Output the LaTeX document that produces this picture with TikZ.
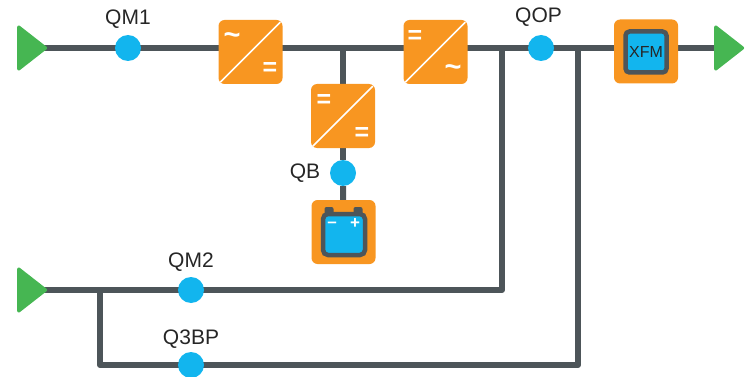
\documentclass[tikz,border=0pt]{standalone}
\usepackage{fontspec}
\setmainfont{Liberation Sans}
\usetikzlibrary{shapes.geometric,backgrounds}
\definecolor{wire}{HTML}{4D5559}
\definecolor{amber}{HTML}{F89621}
\definecolor{sky}{HTML}{12B5EE}
\definecolor{leaf}{HTML}{46B652}
\tikzset{
  x=1pt,y=-1pt,
  wireline/.style={draw=wire,line width=6pt,line join=round},
  breaker/.style={circle,fill=sky,minimum size=26pt,inner sep=0pt},
  orangebox/.style={fill=amber,rounded corners=6pt,minimum size=64pt,inner sep=0pt},
  source/.style={isosceles triangle,isosceles triangle apex angle=76,fill=leaf,draw=leaf,line width=3pt,line join=round,inner sep=0pt,minimum height=27pt,minimum width=41pt},
  tag/.style={font=\fontsize{21}{21}\selectfont,text=black!85,inner sep=0pt},
  sign/.style={font=\fontsize{25}{25}\selectfont\bfseries,text=white,inner sep=0pt},
  wave/.style={font=\fontsize{29}{29}\selectfont\bfseries,text=white,inner sep=0pt},
  smallsign/.style={font=\fontsize{17}{17}\selectfont\bfseries,text=white,inner sep=0pt},
  slash/.style={draw=white,line width=1.6pt},
  innerbox/.style={draw=wire,fill=sky,line width=4.5pt,rounded corners=4pt,minimum size=41pt,inner sep=0pt},
}
\begin{document}
\begin{tikzpicture}
\useasboundingbox (0,0) rectangle (749,377);
% sources
\node[source] (s1) at (29,48) {};
\node[source] (s2) at (29,290) {};
\node[source] (s3) at (726,48) {};
% breakers
\node[breaker] (qm1) at (128,48) {};
\node[breaker] (qop) at (541,48) {};
\node[breaker] (qb) at (343,173) {};
\node[breaker] (qm2) at (191,290) {};
\node[breaker] (q3bp) at (191,365) {};
% orange boxes
\node[orangebox] (c1) at (250.5,52) {};
\node[orangebox] (c2) at (435.5,52) {};
\node[orangebox] (c3) at (343,116) {};
\node[orangebox] (bat) at (343.5,232) {};
\node[orangebox] (xfm) at (646,51.5) {};
% converter diagonals
\foreach \c in {c1,c2,c3}
  \draw[slash] (\c.south west) ++(2,-2) -- ++(60,-60);
% converter signs
\node[wave] (c1a) at (232,39) {\char"7E};
\node[sign] (c1b) at (270,69) {=};
\node[sign] (c2a) at (415,37) {=};
\node[wave] (c2b) at (453,71) {\char"7E};
\node[sign] (c3a) at (324,101) {=};
\node[sign] (c3b) at (362,134) {=};
% battery
\fill[wire,rounded corners=2pt] (324.5,207) rectangle (333.5,216);
\fill[wire,rounded corners=2pt] (353.5,207) rectangle (362.5,216);
\draw[draw=wire,fill=sky,line width=4.5pt,rounded corners=5pt] (323,214) rectangle (365,255);
\node[smallsign] (minus) at (332,225) {–};
\node[smallsign] (plus) at (355,224) {+};
% transformer
\node[innerbox,font=\fontsize{16}{16}\selectfont,text=black!85] (xfmin) at (646,52) {XFM};
% labels
\node[tag] (lqm1) at (128,19) {QM1};
\node[tag] (lqop) at (538.5,17) {QOP};
\node[tag] (lqb) at (305,173) {QB};
\node[tag] (lqm2) at (191,262) {QM2};
\node[tag] (lq3bp) at (191,339) {Q3BP};
% wiring
\coordinate (j1) at (343,48);
\coordinate (j2) at (502,48);
\coordinate (j3) at (578,48);
\coordinate (j4) at (100,290);
\coordinate (k2) at (502,290);
\coordinate (k3) at (578,365);
\coordinate (k4) at (100,365);
\begin{scope}[on background layer]
\draw[wireline] (s1.center) -- (qm1.center) -- (s3.center);
\draw[wireline] (j1) -- (c3);
\draw[wireline] (c3) -- (qb);
\draw[wireline] (qb) -- (bat);
\draw[wireline] (s2.center) -- (qm2.center) -- (k2) -- (j2);
\draw[wireline] (j4) -- (k4) -- (q3bp.center) -- (k3) -- (j3);
\end{scope}
\end{tikzpicture}
\end{document}
